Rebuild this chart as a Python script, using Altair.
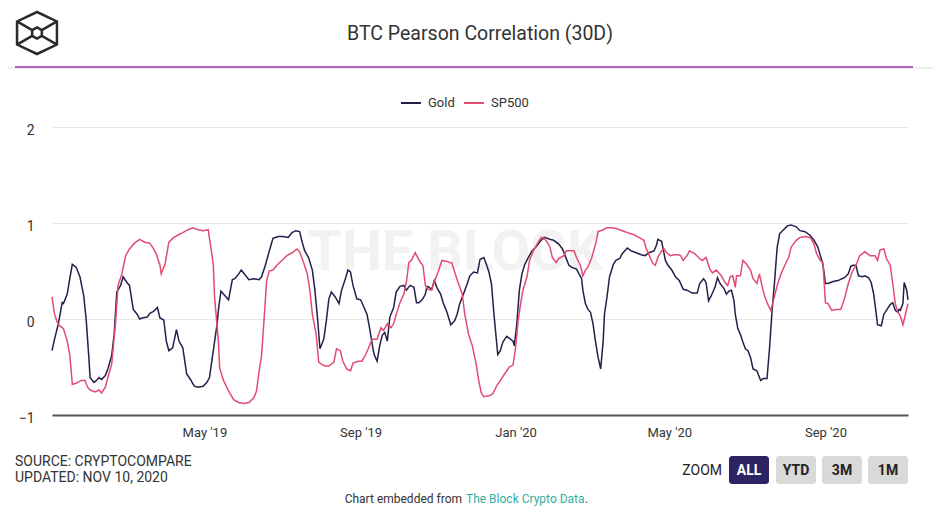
import altair as alt
import pandas as pd

start_date = "2019-01-01"
end_date = "2020-11-05"

gold_days = [0, 2, 5, 8, 9, 12, 14, 16, 19, 22, 25, 27, 29, 30, 33, 35, 37, 39, 42, 44, 47, 49, 51, 54, 56, 59, 61, 64, 67, 69, 71, 75, 77, 80, 83, 85, 88, 90, 92, 95, 98, 100, 103, 106, 109, 112, 115, 119, 122, 124, 127, 130, 131, 133, 135, 139, 142, 144, 147, 149, 152, 155, 159, 163, 165,
             168, 172, 174, 178, 182, 186, 189, 192, 195, 197, 199, 202, 205, 207, 209, 211, 214, 216, 218, 220, 223, 226, 228, 231, 233, 235, 237, 240, 243, 245, 248, 250, 253, 254, 256, 258, 260, 262, 264, 266, 269, 271, 274, 277, 279, 282, 285, 287, 289, 292, 294, 295, 296, 299, 301, 303, 306, 308, 311, 314, 317, 319, 321, 324, 327,
             329, 332, 335, 337, 340, 342, 344, 346, 348, 350, 351, 353, 355, 358, 361, 363, 364, 366, 368, 370, 372, 375, 378, 381, 385, 388, 392, 395, 399, 402, 404, 407, 409, 413, 415, 417, 418, 420, 422, 424, 426, 428, 430, 432, 434, 435, 437, 439, 442, 444, 447, 449, 453, 456, 460, 464, 467, 470, 474, 476, 477, 480, 483, 485, 488, 491,
             494, 497, 500, 504, 508, 510, 513, 515, 517, 519, 522, 524, 526, 529, 531, 533, 535, 537, 538, 540, 542, 544, 546, 548, 550, 552, 555, 558, 560, 563, 565, 567, 569, 571, 573, 576, 579, 582, 586, 589, 593, 597, 600, 603, 605, 607, 609, 611, 615, 619, 622, 624, 627, 629, 631, 633, 635, 638, 640, 643, 645, 647, 649, 650, 653, 655, 657, 660, 662, 664, 666, 667, 668, 670, 671, 673, 674]
gold_vals = [-0.33, -0.21, -0.05, 0.17, 0.16, 0.26, 0.42, 0.57, 0.54, 0.44, 0.24, -0.02, -0.40, -0.61, -0.66, -0.64, -0.61, -0.63, -0.59, -0.52, -0.38, -0.15, 0.28, 0.35, 0.44, 0.38, 0.35, 0.10, 0.05, 0.00, 0.01, 0.02, 0.06, 0.08, 0.12, 0.01, -0.01, -0.23, -0.33, -0.30, -0.11, -0.23, -0.30, -0.57, -0.63, -0.70, -0.71, -0.70, -0.66, -0.61, -0.33, -0.05, 0.09, 0.29, 0.26, 0.20, 0.41, 0.42, 0.47, 0.51, 0.46, 0.41, 0.42, 0.41, 0.44,
             0.56, 0.75, 0.84, 0.86, 0.86, 0.85, 0.90, 0.92, 0.91, 0.80, 0.71, 0.64, 0.51, 0.30, 0.02, -0.31, -0.21, -0.02, 0.21, 0.28, 0.23, 0.16, 0.30, 0.42, 0.51, 0.49, 0.35, 0.21, 0.20, 0.14, 0.05, -0.09, -0.33, -0.38, -0.44, -0.28, -0.17, -0.14, -0.23, 0.02, 0.12, 0.28, 0.34, 0.35, 0.30, 0.35, 0.33, 0.17, 0.17, 0.21, 0.26, 0.33, 0.34, 0.31, 0.40, 0.33, 0.26, 0.17, 0.07, -0.06, -0.02, 0.05, 0.16, 0.26, 0.37,
             0.45, 0.49, 0.48, 0.62, 0.64, 0.57, 0.49, 0.37, 0.05, -0.23, -0.37, -0.33, -0.24, -0.18, -0.21, -0.23, -0.28, -0.05, 0.30, 0.47, 0.56, 0.64, 0.71, 0.75, 0.82, 0.85, 0.83, 0.82, 0.78, 0.73, 0.66, 0.56, 0.54, 0.52, 0.47, 0.42, 0.30, 0.16, 0.10, 0.07, -0.05, -0.24, -0.40, -0.52, -0.23, 0.05, 0.23, 0.44, 0.57, 0.61, 0.63, 0.68, 0.74, 0.71, 0.69, 0.67, 0.66, 0.69, 0.71, 0.77, 0.83, 0.81, 0.61, 0.56, 0.51, 0.44,
             0.40, 0.31, 0.30, 0.27, 0.27, 0.37, 0.42, 0.38, 0.19, 0.24, 0.33, 0.43, 0.37, 0.32, 0.26, 0.29, 0.30, 0.19, 0.05, -0.10, -0.16, -0.24, -0.31, -0.33, -0.40, -0.52, -0.54, -0.64, -0.62, -0.62, -0.30, 0.09, 0.40, 0.75, 0.89, 0.93, 0.97, 0.98, 0.96, 0.92, 0.91, 0.87, 0.82, 0.75, 0.66, 0.57, 0.37, 0.37, 0.39, 0.40, 0.42, 0.43, 0.47, 0.55, 0.56, 0.56, 0.45, 0.44, 0.45, 0.43, 0.38, 0.26, 0.05, -0.06, -0.07, 0.05, 0.09, 0.15, 0.17, 0.09, 0.07, 0.10, 0.09, 0.16, 0.38, 0.30, 0.20]

sp_days = [0, 2, 4, 6, 9, 12, 14, 16, 19, 23, 26, 28, 30, 34, 37, 39, 42, 44, 47, 50, 52, 55, 58, 61, 65, 69, 73, 77, 80, 82, 85, 86, 89, 92, 96, 100, 103, 107, 111, 115, 119, 123, 124, 127, 128, 131, 132, 135, 139, 143, 147, 151, 155, 159, 161, 163, 165, 167, 169, 171,
           174, 177, 181, 185, 189, 193, 195, 198, 201, 203, 205, 208, 210, 212, 215, 218, 222, 224, 227, 229, 232, 235, 237, 241, 244, 247, 249, 252, 256, 259, 261, 264, 267, 269, 272, 274, 277, 279, 281, 283, 286, 288, 290, 292, 294, 296, 299, 300, 302, 304, 307, 311, 315, 317, 320, 323, 325, 328,
           331, 334, 336, 338, 340, 344, 347, 350, 353, 357, 360, 363, 365, 367, 369, 371, 374, 376, 379, 382, 385, 387, 390, 392, 394, 397, 399, 403, 405, 408, 411, 413, 416, 418, 420, 422, 425, 428, 430, 434, 437, 441, 445, 449, 453, 458, 462, 466, 468, 471, 473, 475, 477, 480, 482, 484, 487, 490, 493,
           495, 497, 500, 502, 506, 510, 512, 515, 518, 520, 523, 527, 530, 532, 534, 536, 538, 539, 542, 544, 547, 550, 552, 555, 557, 559, 561, 564, 566, 568, 571, 574, 577, 580, 582, 586, 589, 593, 597, 600, 602, 605, 607, 609, 611, 614, 617, 621, 624, 627, 630, 633, 636, 640, 644, 648, 650, 652, 655, 657, 660, 662, 664, 666, 668, 670, 672, 674]
sp_vals = [0.23, 0.05, -0.03, -0.07, -0.10, -0.23, -0.37, -0.68, -0.67, -0.64, -0.64, -0.71, -0.74, -0.76, -0.74, -0.77, -0.71, -0.61, -0.47, -0.05, 0.35, 0.47, 0.66, 0.73, 0.79, 0.83, 0.80, 0.79, 0.73, 0.68, 0.56, 0.47, 0.57, 0.80, 0.85, 0.88, 0.90, 0.93, 0.95, 0.93, 0.92, 0.93, 0.84, 0.57, 0.23, -0.23, -0.51, -0.64, -0.75, -0.84, -0.87, -0.88, -0.87, -0.82, -0.75, -0.55, -0.38, 0.00, 0.40, 0.50,
           0.51, 0.56, 0.61, 0.66, 0.69, 0.73, 0.70, 0.59, 0.47, 0.30, 0.05, -0.16, -0.45, -0.47, -0.49, -0.49, -0.45, -0.31, -0.33, -0.44, -0.52, -0.54, -0.46, -0.44, -0.44, -0.37, -0.31, -0.21, -0.21, -0.09, -0.12, -0.05, -0.09, -0.05, 0.09, 0.17, 0.26, 0.38, 0.59, 0.61, 0.69, 0.64, 0.59, 0.56, 0.35, 0.31, 0.30, 0.35, 0.42, 0.49, 0.61, 0.60, 0.58, 0.49, 0.37, 0.26, 0.05, -0.16,
           -0.28, -0.47, -0.64, -0.77, -0.81, -0.80, -0.78, -0.70, -0.64, -0.56, -0.50, -0.48, -0.30, -0.02, 0.16, 0.31, 0.44, 0.61, 0.71, 0.78, 0.85, 0.85, 0.80, 0.75, 0.64, 0.59, 0.63, 0.66, 0.71, 0.71, 0.71, 0.64, 0.56, 0.45, 0.51, 0.54, 0.64, 0.78, 0.91, 0.93, 0.95, 0.95, 0.94, 0.92, 0.90, 0.88, 0.85, 0.82, 0.73, 0.64, 0.58, 0.56, 0.64, 0.71, 0.73, 0.69, 0.66, 0.67, 0.67,
           0.66, 0.61, 0.66, 0.71, 0.68, 0.63, 0.61, 0.64, 0.52, 0.48, 0.51, 0.45, 0.38, 0.35, 0.44, 0.45, 0.33, 0.45, 0.45, 0.61, 0.57, 0.51, 0.42, 0.37, 0.47, 0.35, 0.24, 0.14, 0.09, 0.19, 0.35, 0.47, 0.56, 0.64, 0.75, 0.82, 0.85, 0.86, 0.85, 0.78, 0.68, 0.61, 0.59, 0.17, 0.16, 0.09, 0.10, 0.10, 0.21, 0.37, 0.49, 0.56, 0.66, 0.70, 0.66, 0.66, 0.61, 0.72, 0.73, 0.63, 0.56, 0.37, 0.16, 0.07, 0.03, -0.06, 0.05, 0.16]

series_names = ["Gold", "SP500"]
series_colors = ["#221f4b", "#e24c72"]
x_tick_dates = ["2019-05-01", "2019-09-01", "2020-01-01", "2020-05-01", "2020-09-01"]
y_ticks = [-1, 0, 1, 2]

title_text = "BTC Pearson Correlation (30D)"
source_text = "SOURCE: CRYPTOCOMPARE"
updated_text = "UPDATED: NOV 10, 2020"
watermark_text = "THE BLOCK"
zoom_label = "ZOOM"
zoom_buttons = ["ALL", "YTD", "3M", "1M"]
footer_text = "Chart embedded from"
footer_link = "The Block Crypto Data"

FONT = "Roboto"

base = pd.Timestamp(start_date)
rows = []
for name, days, vals in [("Gold", gold_days, gold_vals), ("SP500", sp_days, sp_vals)]:
    for d, v in zip(days, vals):
        rows.append({"date": base + pd.Timedelta(days=d), "value": v, "series": name})
df = pd.DataFrame(rows)


def dt(s):
    t = pd.Timestamp(s)
    return alt.DateTime(year=t.year, month=t.month, date=t.day)


one = pd.DataFrame({"k": [0]})

lines = alt.Chart(df).mark_line(strokeWidth=1.5).encode(
    x=alt.X("date:T",
            scale=alt.Scale(domain=[dt(start_date), dt(end_date)], nice=False),
            axis=alt.Axis(values=[dt(s) for s in x_tick_dates], format="%b '%y", title=None,
                          grid=False, ticks=False, domainColor="#555555", domainWidth=2,
                          labelColor="#333333", labelFontSize=13, labelPadding=11, labelFont=FONT)),
    y=alt.Y("value:Q",
            scale=alt.Scale(domain=[-1, 2], nice=False, zero=False),
            axis=alt.Axis(values=y_ticks, title=None, domain=False, ticks=False,
                          gridColor="#e8e8e8", labelPadding=18, labelFontSize=14,
                          labelColor="#333333", labelOffset=3, labelFont=FONT)),
    color=alt.Color("series:N",
                    scale=alt.Scale(domain=series_names, range=series_colors),
                    legend=alt.Legend(title=None, orient="none", legendX=348, legendY=-35,
                                      direction="horizontal", symbolType="stroke",
                                      symbolSize=400, symbolStrokeWidth=2,
                                      labelFontSize=13, labelColor="#333333", labelFont=FONT,
                                      labelOffset=6, columnPadding=5, padding=0)),
)

watermark = alt.Chart(one).mark_text(
    text=watermark_text, font=FONT, fontSize=56, fontWeight="bold", color="#f2f2f2",
    align="center", baseline="middle"
).encode(x=alt.value(403), y=alt.value(126))

title = alt.Chart(one).mark_text(
    text=title_text, font=FONT, fontSize=19.5, color="#333333", align="center", baseline="middle"
).encode(x=alt.value(428), y=alt.value(-93))

gray_rule = alt.Chart(one).mark_rule(color="#dddddd", strokeWidth=1).encode(
    x=alt.value(-52), x2=alt.value(890), y=alt.value(-59))
purple_rule = alt.Chart(one).mark_rule(color="#9b2fb5", strokeWidth=1.5).encode(
    x=alt.value(-37), x2=alt.value(861), y=alt.value(-60))

logo_path = ("M0,-1L0.95,-0.55L0.95,0.55L0,1L-0.95,0.55L-0.95,-0.55Z "
             "M0,-0.27L0.23,-0.14L0.23,0.14L0,0.27L-0.23,0.14L-0.23,-0.14Z "
             "M-0.95,-0.55L-0.23,-0.14 M0.95,-0.55L0.23,-0.14 "
             "M-0.95,0.55L-0.23,0.14 M0.95,0.55L0.23,0.14")
logo = alt.Chart(one).mark_point(
    shape=logo_path, size=1764, filled=False, stroke="#2b2b2b", strokeWidth=2.5, opacity=1
).encode(x=alt.value(-15), y=alt.value(-94))

source = alt.Chart(one).mark_text(
    text=source_text, font=FONT, fontSize=14, color="#333333", align="left", baseline="middle"
).encode(x=alt.value(-37), y=alt.value(335))
updated = alt.Chart(one).mark_text(
    text=updated_text, font=FONT, fontSize=14, color="#333333", align="left", baseline="middle"
).encode(x=alt.value(-37), y=alt.value(351))

zoom_txt = alt.Chart(one).mark_text(
    text=zoom_label, font=FONT, fontSize=14, color="#222222", align="right", baseline="middle"
).encode(x=alt.value(670), y=alt.value(343.5))

button_layers = []
btn_left = [677, 724, 770, 816]
for i, lab in enumerate(zoom_buttons):
    fill = "#2d2463" if i == 0 else "#d9d9d9"
    tcol = "#ffffff" if i == 0 else "#222222"
    button_layers.append(alt.Chart(one).mark_rect(color=fill, cornerRadius=3).encode(
        x=alt.value(btn_left[i]), x2=alt.value(btn_left[i] + 40),
        y=alt.value(329), y2=alt.value(357)))
    button_layers.append(alt.Chart(one).mark_text(
        text=lab, font=FONT, fontSize=14, fontWeight="bold", color=tcol,
        align="center", baseline="middle"
    ).encode(x=alt.value(btn_left[i] + 20), y=alt.value(343.5)))

footer1 = alt.Chart(one).mark_text(
    text=footer_text, font=FONT, fontSize=12, color="#333333", align="right", baseline="middle"
).encode(x=alt.value(410), y=alt.value(372))
footer2 = alt.Chart(one).mark_text(
    text=footer_link, font=FONT, fontSize=12, color="#2fb0a4", align="left", baseline="middle"
).encode(x=alt.value(414), y=alt.value(372))
footer3 = alt.Chart(one).mark_text(
    text=".", font=FONT, fontSize=12, color="#333333", align="left", baseline="middle"
).encode(x=alt.value(533), y=alt.value(372))

chart = alt.layer(
    watermark, lines, title, gray_rule, purple_rule, logo, source, updated, zoom_txt,
    *button_layers, footer1, footer2, footer3
).resolve_scale(color="independent").properties(
    width=856, height=288,
    autosize=alt.AutoSizeParams(type="none"),
    padding={"left": 44, "top": 119, "right": 25, "bottom": 91},
    background="white",
).configure_view(stroke=None)

chart.save("out.html", embed_options={"renderer": "svg", "actions": False})
